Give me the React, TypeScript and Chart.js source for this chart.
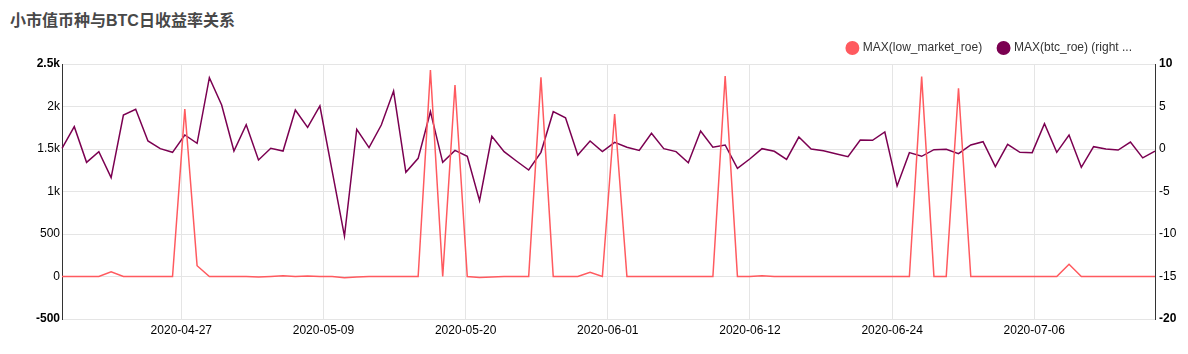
import React, { useEffect, useRef } from "react";
import { Chart, registerables } from "chart.js";

Chart.register(...registerables);

const TITLE = "小市值币种与BTC日收益率关系";
const START_DATE = "2020-04-18";

const lowMarketRoe: number[] = [
  0, 0, 0, 0, 56, 0, 0, 0, 0, 0,
  1971, 127, 0, 0, 0, 0, -5, 0, 8, 0,
  5, 0, 0, -14, -5, 0, 0, 0, 0, 0,
  2429, 0, 2253, 0, -12, -5, 0, 0, 0, 2343,
  0, 0, 0, 50, 0, 1912, 0, 0, 0, 0,
  0, 0, 0, 0, 2359, 0, 0, 10, 0, 0,
  0, 0, 0, 0, 0, 0, 0, 0, 0, 0,
  2351, 0, 0, 2214, 0, 0, 0, 0, 0, 0,
  0, 0, 144, 0, 0, 0, 0, 0, 0, 0,
];

const btcRoe: number[] = [
  0.08, 2.63, -1.57, -0.31, -3.37, 4.0, 4.67, 0.94, 0.04, -0.39,
  1.65, 0.67, 8.39, 5.18, -0.24, 2.86, -1.29, 0.08, -0.24, 4.59,
  2.55, 5.06, -2.6, -10.24, 2.32, 0.16, 2.82, 6.82, -2.74, -1.1,
  4.39, -1.57, -0.16, -0.86, -6.08, 1.49, -0.31, -1.41, -2.47, -0.39,
  4.39, 3.68, -0.71, 0.94, -0.31, 0.79, 0.2, -0.16, 1.84, 0.04,
  -0.31, -1.61, 2.12, 0.2, 0.47, -2.27, -1.18, 0.04, -0.27, -1.22,
  1.41, 0, -0.2, -0.55, -0.9, 1.06, 1.02, 2.0, -4.35, -0.43,
  -0.86, -0.08, -0.04, -0.55, 0.47, 0.86, -2.08, 0.55, -0.39, -0.43,
  2.98, -0.39, 1.65, -2.16, 0.27, 0, -0.12, 0.82, -1.04, -0.24,
];

const xTickLabels: string[] = [
  "2020-04-27", "2020-05-09", "2020-05-20", "2020-06-01",
  "2020-06-12", "2020-06-24", "2020-07-06",
];
const X_TICK_FIRST = 9.714;
const X_TICK_STEP = 11.576;

const leftTickValues: number[] = [-500, 0, 500, 1000, 1500, 2000, 2500];
const leftTickLabels: string[] = ["-500", "0", "500", "1k", "1.5k", "2k", "2.5k"];
const rightTickValues: number[] = [-20, -15, -10, -5, 0, 5, 10];
const rightTickLabels: string[] = ["-20", "-15", "-10", "-5", "0", "5", "10"];

const seriesLabels = ["MAX(low_market_roe)", "MAX(btc_roe) (right ..."];
const RED = "#ff5a5f";
const PURPLE = "#7b0051";
const FONT = "'Liberation Sans', Arial, sans-serif";

function buildDates(start: string, n: number): string[] {
  const out: string[] = [];
  const t0 = Date.parse(start + "T00:00:00Z");
  for (let i = 0; i < n; i++) {
    out.push(new Date(t0 + i * 86400000).toISOString().slice(0, 10));
  }
  return out;
}

const dates = buildDates(START_DATE, lowMarketRoe.length);

export default function App() {
  const ref = useRef<HTMLCanvasElement | null>(null);

  useEffect(() => {
    if (!ref.current) return;
    const legendShift = {
      id: "legendShift",
      afterUpdate(chart: any) {
        if (chart.legend) {
          chart.legend.right -= 39;
          chart.legend.adjustHitBoxes();
        }
      },
    };
    const boldFont = (vals: number[]) => (ctx: any) => {
      const v = ctx.tick ? ctx.tick.value : null;
      const isEdge = v === vals[0] || v === vals[vals.length - 1];
      return { family: FONT, size: 12, weight: isEdge ? "bold" : "normal" };
    };
    const chart = new Chart(ref.current, {
      type: "line",
      data: {
        labels: dates,
        datasets: [
          {
            label: seriesLabels[0],
            data: lowMarketRoe,
            borderColor: RED,
            backgroundColor: RED,
            borderWidth: 1.5,
            pointRadius: 0,
            tension: 0,
            yAxisID: "y",
          },
          {
            label: seriesLabels[1],
            data: btcRoe,
            borderColor: PURPLE,
            backgroundColor: PURPLE,
            borderWidth: 1.5,
            pointRadius: 0,
            tension: 0,
            yAxisID: "y1",
          },
        ],
      },
      options: {
        animation: false,
        responsive: true,
        maintainAspectRatio: false,
        layout: { padding: { top: 25, left: 0, right: 0, bottom: 0 } },
        plugins: {
          title: { display: false },
          tooltip: { enabled: false },
          legend: {
            display: true,
            position: "top",
            align: "end",
            labels: {
              usePointStyle: true,
              pointStyle: "circle",
              boxWidth: 8.8,
              boxHeight: 8.8,
              padding: 17,
              color: "#333",
              font: { family: FONT, size: 12 },
            },
          },
        },
        scales: {
          x: {
            type: "category",
            offset: false,
            afterBuildTicks: (scale: any) => {
              scale.ticks = xTickLabels.map((_, i) => ({
                value: X_TICK_FIRST + i * X_TICK_STEP,
              }));
            },
            afterFit: (scale: any) => {
              scale.height = 35;
            },
            ticks: {
              autoSkip: false,
              maxRotation: 0,
              padding: 4,
              color: "#000",
              font: { family: FONT, size: 12 },
              callback: (_v: any, i: number) => xTickLabels[i],
            },
            grid: { color: "#e5e5e5", drawTicks: false, offset: false },
            border: { display: false },
          },
          y: {
            type: "linear",
            position: "left",
            min: leftTickValues[0],
            max: leftTickValues[leftTickValues.length - 1],
            afterBuildTicks: (scale: any) => {
              scale.ticks = leftTickValues.map((v) => ({ value: v }));
            },
            afterFit: (scale: any) => {
              scale.width = 62;
            },
            ticks: {
              padding: 2,
              color: "#000",
              font: boldFont(leftTickValues) as any,
              callback: (_v: any, i: number) => leftTickLabels[i],
            },
            grid: { color: "#e5e5e5", drawTicks: false },
            border: { display: true, color: "#333", width: 1 },
          },
          y1: {
            type: "linear",
            position: "right",
            min: rightTickValues[0],
            max: rightTickValues[rightTickValues.length - 1],
            afterBuildTicks: (scale: any) => {
              scale.ticks = rightTickValues.map((v) => ({ value: v }));
            },
            afterFit: (scale: any) => {
              scale.width = 33;
            },
            ticks: {
              padding: 4,
              color: "#000",
              font: boldFont(rightTickValues) as any,
              callback: (_v: any, i: number) => rightTickLabels[i],
            },
            grid: { drawOnChartArea: false, drawTicks: false },
            border: { display: true, color: "#333", width: 1 },
          },
        },
      },
      plugins: [legendShift],
    });
    return () => chart.destroy();
  }, []);

  return (
    <div style={{ position: "absolute", left: 0, top: 0, width: 1188, height: 354, background: "#fff" }}>
      <div
        style={{
          position: "absolute",
          left: 10,
          top: 13,
          fontFamily: "'Liberation Sans', 'Noto Sans CJK SC', sans-serif",
          fontWeight: "bold",
          fontSize: 16,
          lineHeight: "16px",
          color: "#484848",
          whiteSpace: "nowrap",
        }}
      >
        {TITLE}
      </div>
      <div style={{ position: "absolute", left: 0, top: 0, width: 1188, height: 354 }}>
        <canvas ref={ref} />
      </div>
    </div>
  );
}
